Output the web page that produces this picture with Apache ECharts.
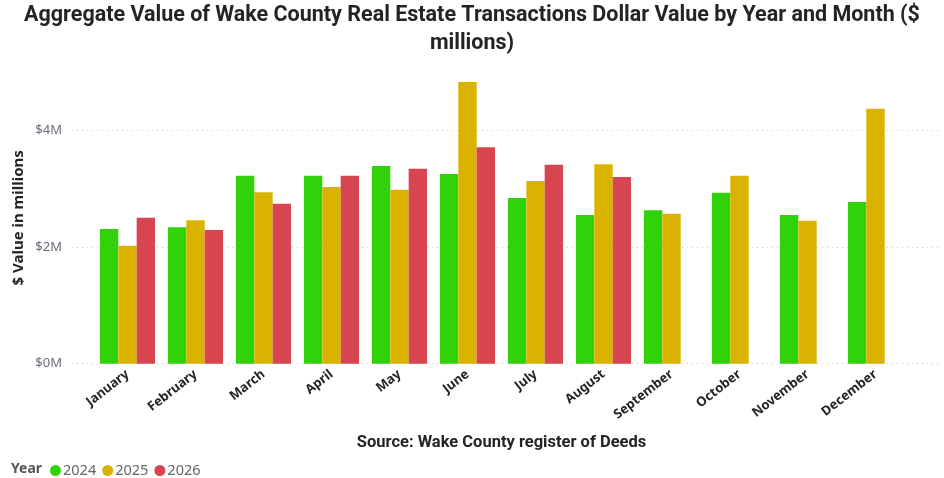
<!DOCTYPE html>
<html>
<head>
<meta charset="utf-8">
<script src="https://cdn.jsdelivr.net/npm/echarts@6/dist/echarts.min.js"></script>
<style>
  html, body { margin: 0; padding: 0; background: #fff; }
  #chart { width: 944px; height: 478px; }
</style>
</head>
<body>
<div id="chart"></div>
<script>
// data ($ millions)
var months = ['January', 'February', 'March', 'April', 'May', 'June', 'July',
              'August', 'September', 'October', 'November', 'December'];
var years = ['2024', '2025', '2026'];
var values2024 = [2.31, 2.34, 3.22, 3.22, 3.39, 3.25, 2.84, 2.55, 2.63, 2.93, 2.55, 2.77];
var values2025 = [2.02, 2.46, 2.94, 3.03, 2.98, 4.83, 3.13, 3.42, 2.57, 3.22, 2.45, 4.37];
var values2026 = [2.50, 2.29, 2.74, 3.22, 3.34, 3.71, 3.41, 3.20, null, null, null, null];
var yTicks = [0, 2, 4];

var colors = ['#32D20A', '#D9B300', '#D64550'];
var seriesValues = [values2024, values2025, values2026];

var chart = echarts.init(document.getElementById('chart'));

var series = years.map(function (y, i) {
  return {
    name: y,
    type: 'bar',
    xAxisIndex: 0,
    yAxisIndex: 0,
    data: seriesValues[i],
    barGap: '0%',
    barCategoryGap: '19%',
    itemStyle: { color: colors[i] }
  };
});

var option = {
  animation: false,
  title: [{
    text: 'Aggregate Value of Wake County Real Estate Transactions Dollar Value by Year and Month ($\nmillions)',
    left: 'center',
    top: 2,
    padding: 0,
    textStyle: {
      fontFamily: 'Roboto',
      fontWeight: 'bold',
      fontSize: 21.5,
      lineHeight: 28,
      color: '#252423'
    }
  }, {
    text: 'Year',
    left: 11,
    top: 462,
    padding: 0,
    textStyle: { fontFamily: 'Noto Sans', fontWeight: 'bold', fontSize: 14, color: '#555' }
  }],
  legend: {
    data: years,
    left: 45,
    top: 458,
    icon: 'circle',
    itemWidth: 11,
    itemHeight: 11,
    itemGap: 6,
    textStyle: { fontFamily: 'Noto Sans', fontSize: 14.5, color: '#666', padding: [0, 0, 0, -3] }
  },
  grid: [
    { left: 93.5, right: 34.5, top: 72, bottom: 114.3 },
    { left: 72, right: 4, top: 130.3, bottom: 114.3 }
  ],
  xAxis: [{
    type: 'category',
    gridIndex: 0,
    data: months,
    axisLine: { show: false },
    axisTick: { show: false },
    axisLabel: {
      rotate: 38,
      margin: 9,
      interval: 0,
      fontFamily: 'Noto Sans',
      fontWeight: 'bold',
      fontSize: 13,
      color: '#252423'
    },
    name: 'Source: Wake County register of Deeds',
    nameLocation: 'middle',
    nameGap: 71,
    nameTextStyle: { fontFamily: 'Roboto', fontWeight: 'bold', fontSize: 16.5, color: '#252423' }
  }, {
    type: 'value',
    gridIndex: 1,
    show: false
  }],
  yAxis: [{
    type: 'value',
    gridIndex: 0,
    min: 0,
    max: 5,
    axisLine: { show: false },
    axisTick: { show: false },
    axisLabel: { show: false },
    splitLine: { show: false },
    name: '$ Value in millions',
    nameLocation: 'middle',
    nameGap: 67,
    nameTextStyle: { fontFamily: 'Noto Sans', fontWeight: 'bold', fontSize: 15, color: '#252423' }
  }, {
    type: 'value',
    gridIndex: 1,
    min: yTicks[0],
    max: yTicks[yTicks.length - 1],
    interval: 2,
    axisLine: { show: false },
    axisTick: { show: false },
    splitLine: { lineStyle: { type: [1, 4], color: '#C8C8C8', width: 1 } },
    axisLabel: {
      margin: 10,
      fontFamily: 'Noto Sans',
      fontSize: 13,
      color: '#6b6b7d',
      formatter: function (v) { return '$' + v + 'M'; }
    }
  }],
  series: series
};

chart.setOption(option);
</script>
</body>
</html>
